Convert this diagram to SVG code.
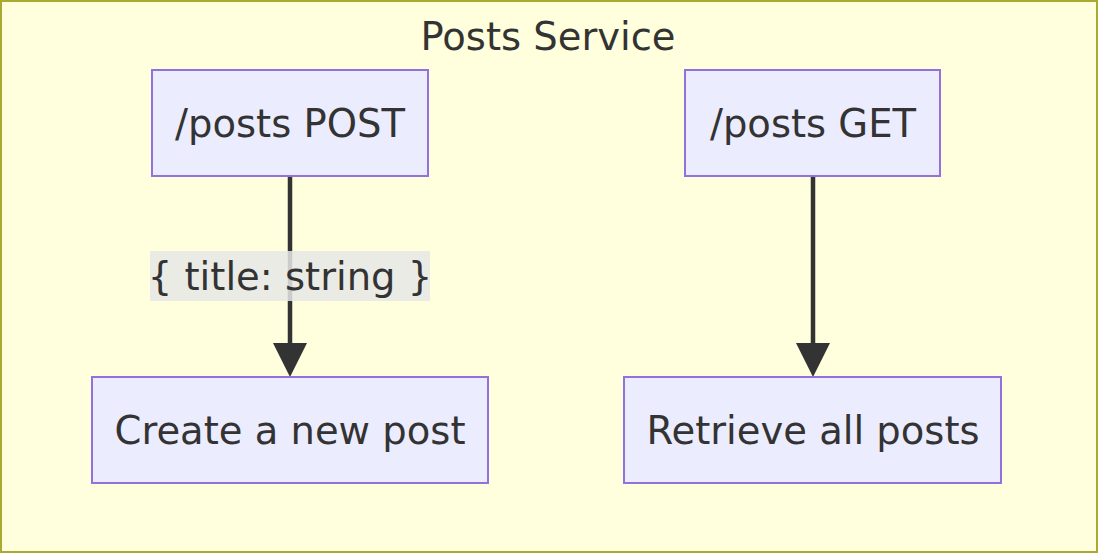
<svg xmlns="http://www.w3.org/2000/svg" width="1098" height="556" viewBox="0 0 1098 556">
<style>
.cluster{fill:#ffffde;stroke:#aaaa33;stroke-width:2}
.node rect{fill:#ececff;stroke:#9370db;stroke-width:2}
.t{font-family:"DejaVu Sans",Verdana,sans-serif;font-size:38.5px;fill:#333333;text-anchor:middle}
.edge{fill:none;stroke:#333333;stroke-width:4.5}
.lbl{fill:#e8e8e8;opacity:0.85}
</style>
<defs>
<marker id="arrow" viewBox="0 0 34 34" refX="17" refY="17" markerWidth="34" markerHeight="34" markerUnits="userSpaceOnUse" orient="auto">
<path d="M0,0 L34,17 L0,34 z" fill="#333333"/>
</marker>
</defs>
<g id="cluster-posts-service">
<rect class="cluster" x="1" y="1" width="1096" height="551"/>
<text class="t" x="548" y="50">Posts Service</text>
</g>
<g id="connectors">
<path class="edge" d="M290,177 L290,360" marker-end="url(#arrow)"/>
<path class="edge" d="M813,177 L813,360" marker-end="url(#arrow)"/>
<g id="edge-label">
<rect class="lbl" x="150" y="251" width="280" height="50"/>
<text class="t" x="290" y="290">{ title: string }</text>
</g>
</g>
<g id="node-posts-post" class="node">
<rect x="152" y="70" width="276" height="106"/>
<text class="t" x="290" y="137">/posts POST</text>
</g>
<g id="node-posts-get" class="node">
<rect x="685" y="70" width="255" height="106"/>
<text class="t" x="813" y="137">/posts GET</text>
</g>
<g id="node-create" class="node">
<rect x="92" y="377" width="396" height="106"/>
<text class="t" x="290" y="444">Create a new post</text>
</g>
<g id="node-retrieve" class="node">
<rect x="624" y="377" width="377" height="106"/>
<text class="t" x="813" y="444">Retrieve all posts</text>
</g>
</svg>
